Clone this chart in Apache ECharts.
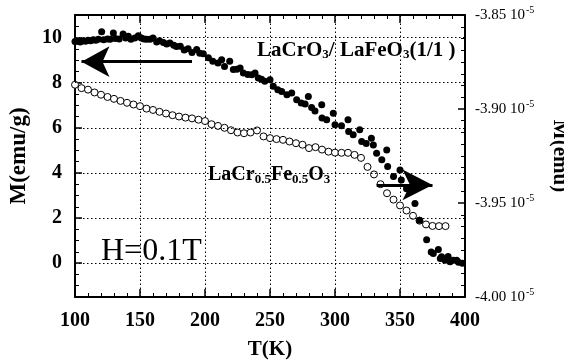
<!DOCTYPE html>
<html>
<head>
<meta charset="utf-8">
<script src="https://cdn.jsdelivr.net/npm/echarts@6/dist/echarts.min.js"></script>
<style>
  html, body { margin: 0; padding: 0; background: #fff; }
  #main { width: 564px; height: 362px; }
</style>
</head>
<body>
<div id="main"></div>
<script>
// LaCrO3 / LaFeO3 (1/1) mixture, M(emu/g), left axis
var filledT = [100,102,104,106,108,110,112,114,116,118,120.5,122,125,127,129.5,131,134,137,139,141,
  143,146,148.7,151,153,155,157.7,160,162.8,165,168,170.5,173,176,178,181,184,187,190,193.6,
  196,198.7,202.6,206,210,212.8,215,219,221.8,224.5,227,229.5,233,236,238.5,241,243.5,246,250,252.5,
  256,259,263,266.7,270.5,274,277,279.5,282,284.6,289.8,290,293.6,298.7,300,305,310,310.5,314,319,
  320.5,324,328,329.5,332,336,339.8,340.5,345,350,351,355,361.5,365,370.5,374,375.6,379.5,381,382,
  384.6,387,388.5,391,393.6,395,398];
var filledM = [9.82,9.84,9.80,9.86,9.84,9.88,9.86,9.90,9.88,9.92,10.26,9.90,9.94,9.92,10.2,9.96,9.94,10.16,9.98,10.06,
  9.92,9.98,10.08,9.98,9.94,9.92,9.92,9.98,9.8,9.86,9.78,9.72,9.76,9.66,9.6,9.62,9.45,9.5,9.34,9.47,
  9.3,9.28,9.1,8.95,8.87,9.02,8.72,8.95,8.58,8.6,8.65,8.43,8.36,8.35,8.43,8.21,8.15,8.06,8.13,7.84,
  7.69,7.61,7.47,7.54,7.24,7.1,7.05,7.39,6.9,6.75,7.02,6.43,6.36,6.65,6.13,6.09,6.36,5.84,5.69,5.91,
  5.39,5.3,5.54,5.24,4.87,4.58,5.02,4.28,3.84,4.13,3.69,3.3,2.65,1.9,1.04,0.5,0.43,0.61,0.21,0.28,
  0.13,0.3,0.06,0.13,0.13,0.04,0.0];

// LaCr0.5Fe0.5O3, M(emu) in units of 10^-5, right axis
var openT = [100,105,110,115,120,125,130,135,140,145,150,155,160,165,170,175,180,185,190,195,
  200,205,210,215,220,225,230,235,240,245,250,255,260,265,270,275,280,285,290,295,
  300,305,310,315,320,325,330,335,340,345,350,355,360,365,370,375,380,385];
var openM = [-3.8871,-3.8889,-3.8897,-3.8912,-3.8924,-3.8936,-3.8946,-3.8957,-3.8967,-3.8976,
  -3.8985,-3.8998,-3.9005,-3.9015,-3.9024,-3.9033,-3.9040,-3.9046,-3.9050,-3.9057,
  -3.9064,-3.9081,-3.9090,-3.9100,-3.9113,-3.9125,-3.9129,-3.9125,-3.9114,-3.9146,
  -3.9155,-3.9160,-3.9164,-3.9173,-3.9182,-3.9190,-3.9208,-3.9203,-3.9216,-3.9227,
  -3.9232,-3.9233,-3.9233,-3.9244,-3.9260,-3.9308,-3.9348,-3.9400,-3.9448,-3.9482,
  -3.9513,-3.9540,-3.9568,-3.9594,-3.9614,-3.9622,-3.9623,-3.9623];

// dotted grid positions (T and left-axis M)
var xGrid = [150, 200, 250, 300, 350];
var yGrid = [0, 2, 4, 6, 8, 10];

var myChart = echarts.init(document.getElementById('main'));

var serif = 'Liberation Serif';
var black = '#000';
var dotStyle = { color: black, width: 1, type: [1.5, 2.5], opacity: 1 };
var arrowStyle = { color: black, width: 3, type: 'solid' };

function pairs(xs, ys) {
  var out = [];
  for (var i = 0; i < xs.length; i++) out.push([xs[i], ys[i]]);
  return out;
}

// horizontal gridlines + the two arrows live on the left-axis series
var leftMarks = yGrid.map(function (v) {
  return { yAxis: v };
});
leftMarks.push([
  { coord: [190, 8.93], lineStyle: arrowStyle },
  { coord: [105, 8.93], symbol: 'arrow', symbolSize: [23, 28] }
]);
leftMarks.push([
  { coord: [332, 3.47], lineStyle: arrowStyle },
  { coord: [375, 3.47], symbol: 'arrow', symbolSize: [23, 30] }
]);

var tickLabel = { color: black, fontFamily: serif, fontWeight: 'bold', fontSize: 20 };

option = {
  backgroundColor: '#fff',
  animation: false,
  grid: { left: 75, right: 99, top: 15, bottom: 65, outerBoundsMode: 'none', containLabel: false },
  xAxis: [{
    type: 'value', min: 100, max: 400, interval: 50,
    position: 'bottom',
    name: 'T(K)', nameLocation: 'middle', nameGap: 42, nameMoveOverlap: false,
    nameTextStyle: { color: black, fontFamily: serif, fontWeight: 'bold', fontSize: 21 },
    axisLine: { onZero: false, lineStyle: { color: black, width: 2 } },
    axisTick: { inside: true, length: 8, lineStyle: { color: black, width: 1.5 } },
    minorTick: { show: true, splitNumber: 5, length: 4, lineStyle: { color: black, width: 1 } },
    splitLine: { show: false },
    axisLabel: Object.assign({ margin: 14 }, tickLabel)
  }, {
    type: 'value', min: 100, max: 400, interval: 50,
    position: 'top',
    axisLine: { onZero: false, lineStyle: { color: black, width: 2 } },
    axisTick: { inside: true, length: 8, lineStyle: { color: black, width: 1.5 } },
    minorTick: { show: true, splitNumber: 5, length: 4, lineStyle: { color: black, width: 1 } },
    splitLine: { show: false },
    axisLabel: { show: false }
  }],
  yAxis: [{
    type: 'value', min: -1.5, max: 11, splitNumber: 6,
    position: 'left',
    name: 'M(emu/g)', nameLocation: 'middle', nameGap: 44, nameMoveOverlap: false,
    nameTextStyle: { color: black, fontFamily: serif, fontWeight: 'bold', fontSize: 23 },
    axisLine: { show: true, onZero: false, lineStyle: { color: black, width: 2 } },
    axisTick: { show: true, inside: true, length: 7, lineStyle: { color: black, width: 1.5 } },
    minorTick: { show: true, splitNumber: 4, length: 4, lineStyle: { color: black, width: 1 } },
    splitLine: { show: false },
    axisLabel: Object.assign({ margin: 13, showMinLabel: false, showMaxLabel: false }, tickLabel)
  }, {
    type: 'value', min: -4.0, max: -3.85, interval: 0.05,
    position: 'right',
    name: 'M(emu)', nameLocation: 'middle', nameGap: 84, nameRotate: -90, nameMoveOverlap: false,
    nameTextStyle: { color: black, fontFamily: serif, fontWeight: 'bold', fontSize: 21 },
    axisLine: { show: true, onZero: false, lineStyle: { color: black, width: 2 } },
    axisTick: { show: true, inside: true, length: 7, lineStyle: { color: black, width: 1.5 } },
    minorTick: { show: true, splitNumber: 8, length: 4, lineStyle: { color: black, width: 1 } },
    splitLine: { show: false },
    axisLabel: {
      margin: 10,
      formatter: function (v) { return '{a|' + v.toFixed(2) + ' 10}{s|-5}'; },
      rich: {
        a: { color: black, fontFamily: serif, fontSize: 15 },
        s: { color: black, fontFamily: serif, fontSize: 10, padding: [0, 0, 9, 1] }
      }
    }
  }],
  graphic: [{
    type: 'text', left: 257, top: 40,
    style: {
      text: '{b|LaCrO}{u|3}{b|/ LaFeO}{u|3}{b|(1/1 )}',
      rich: {
        b: { fill: black, fontFamily: serif, fontWeight: 'bold', fontSize: 21 },
        u: { fill: black, fontFamily: serif, fontWeight: 'bold', fontSize: 13, padding: [9, 0, 0, 0] }
      }
    }
  }, {
    type: 'text', left: 208, top: 165,
    style: {
      text: '{b|LaCr}{u|0.5}{b|Fe}{u|0.5}{b|O}{u|3}',
      rich: {
        b: { fill: black, fontFamily: serif, fontWeight: 'bold', fontSize: 20 },
        u: { fill: black, fontFamily: serif, fontWeight: 'bold', fontSize: 13, padding: [9, 0, 0, 0] }
      }
    }
  }, {
    type: 'text', left: 101, top: 236,
    style: { text: 'H=0.1T', fill: black, fontFamily: serif, fontSize: 32 }
  }],
  series: [{
    name: 'LaCr0.5Fe0.5O3',
    type: 'scatter',
    xAxisIndex: 0, yAxisIndex: 1,
    symbol: 'circle', symbolSize: 7,
    itemStyle: { color: '#fff', borderColor: black, borderWidth: 1, opacity: 1 },
    data: pairs(openT, openM),
    markLine: {
      silent: true, z: 1,
      symbol: ['none', 'none'],
      label: { show: false },
      lineStyle: dotStyle,
      data: xGrid.map(function (t) { return { xAxis: t }; })
    }
  }, {
    name: 'LaCrO3/LaFeO3',
    type: 'scatter',
    xAxisIndex: 0, yAxisIndex: 0,
    symbol: 'circle', symbolSize: 7,
    itemStyle: { color: black, opacity: 1 },
    data: pairs(filledT, filledM),
    markLine: {
      silent: true,
      symbol: ['none', 'none'],
      label: { show: false },
      lineStyle: dotStyle,
      data: leftMarks
    }
  }]
};

myChart.setOption(option);
</script>
</body>
</html>
